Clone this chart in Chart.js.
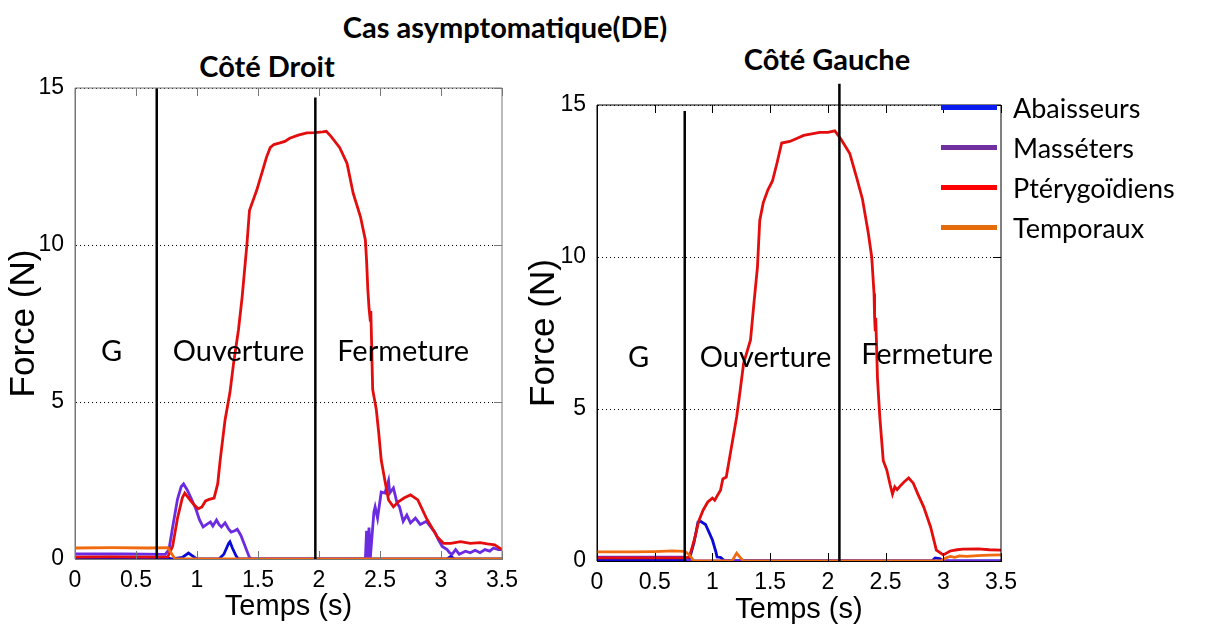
<!DOCTYPE html>
<html>
<head>
<meta charset="utf-8">
<script src="https://cdn.jsdelivr.net/npm/chart.js@4.4.0/dist/chart.umd.min.js"></script>
<style>
  body { margin: 0; width: 1216px; height: 624px; position: relative; background: #fff; overflow: hidden; }
  canvas { position: absolute; top: 0; }
  .ttl { position: absolute; font-family: Lato, "Open Sans", sans-serif; font-weight: bold; font-size: 29px; line-height: 30px; text-align: center; color: #000; }
  #legend { position: absolute; left: 941px; top: 87px; font-family: Lato, "Open Sans", sans-serif; font-size: 27px; }
  #legend div { height: 40px; display: flex; align-items: center; }
  #legend span.sw { display: inline-block; width: 56px; height: 5px; margin-right: 16px; }
</style>
</head>
<body>
<div class="ttl" style="left:255px; width:500px; top:12px;">Cas asymptomatique(DE)</div>
<div class="ttl" style="left:147px; width:240px; top:51px;">Côté Droit</div>
<div class="ttl" style="left:707px; width:240px; top:44px;">Côté Gauche</div>
<canvas id="droit" width="530" height="624" style="left:0;"></canvas>
<canvas id="gauche" width="696" height="624" style="left:520px;"></canvas>
<div id="legend"></div>
<script>
// time (s), force (N) pairs
const xTicks = [0, 0.5, 1, 1.5, 2, 2.5, 3, 3.5];
const yTicks = [0, 5, 10, 15];
const seriesNames = ['Abaisseurs', 'Masséters', 'Ptérygoïdiens', 'Temporaux'];

// Côté Droit
const droitAbaisseurs = [[0,0.04],[0.75,0.04],[0.8,0],[0.88,0.05],[0.93,0.19],[0.98,0.05],[1.0,0],[1.18,0],[1.22,0.15],[1.26,0.5],[1.27,0.55],[1.29,0.35],[1.32,0.1],[1.34,0],[3.05,0],[3.08,0.08],[3.11,0],[3.5,0]];
const droitMasseters = [[0,0.16],[0.4,0.16],[0.74,0.15],[0.77,0.3],[0.8,1.0],[0.84,1.9],[0.87,2.3],[0.89,2.39],[0.92,2.2],[0.95,1.95],[0.99,1.6],[1.02,1.25],[1.05,1.02],[1.08,1.1],[1.11,1.18],[1.13,1.05],[1.16,1.24],[1.18,1.1],[1.2,1.02],[1.23,1.15],[1.26,0.95],[1.28,0.86],[1.31,0.9],[1.33,0.95],[1.36,0.75],[1.38,0.55],[1.41,0.25],[1.43,0.05],[1.45,0],[2.38,0],[2.39,0.9],[2.4,0],[2.41,1.0],[2.42,0],[2.45,1.5],[2.46,1.66],[2.48,1.3],[2.51,2.13],[2.54,2.1],[2.57,2.5],[2.58,2.1],[2.61,2.26],[2.64,1.78],[2.66,1.66],[2.69,1.2],[2.72,1.4],[2.75,1.15],[2.79,1.3],[2.83,1.1],[2.88,1.2],[2.92,1.0],[2.95,0.85],[2.98,0.6],[3.01,0.4],[3.05,0.3],[3.07,0.2],[3.09,0.15],[3.12,0.3],[3.15,0.15],[3.2,0.25],[3.24,0.2],[3.28,0.28],[3.32,0.2],[3.36,0.3],[3.4,0.25],[3.43,0.35],[3.47,0.3],[3.5,0.3]];
const droitPterygoidiens = [[0,0.06],[0.3,0.07],[0.6,0.06],[0.76,0.07],[0.8,0.4],[0.84,1.3],[0.88,1.95],[0.9,2.1],[0.93,1.95],[0.97,1.75],[1.01,1.6],[1.04,1.66],[1.07,1.85],[1.1,1.9],[1.14,1.94],[1.17,2.4],[1.19,3.15],[1.23,4.43],[1.27,5.3],[1.3,6.24],[1.34,7.3],[1.37,8.34],[1.41,10.06],[1.43,11.1],[1.49,11.75],[1.54,12.4],[1.57,12.8],[1.6,13.1],[1.63,13.2],[1.68,13.25],[1.72,13.3],[1.76,13.4],[1.83,13.5],[1.9,13.57],[1.97,13.58],[2.03,13.6],[2.06,13.62],[2.1,13.45],[2.17,13.1],[2.23,12.6],[2.28,11.65],[2.34,10.9],[2.38,10.16],[2.39,9.5],[2.4,8.6],[2.41,8.0],[2.42,7.6],[2.425,7.9],[2.44,5.4],[2.47,4.75],[2.49,4.0],[2.51,3.15],[2.54,2.5],[2.57,1.88],[2.61,1.66],[2.65,1.82],[2.7,1.95],[2.75,2.04],[2.81,1.88],[2.88,1.3],[2.97,0.7],[3.02,0.5],[3.08,0.5],[3.16,0.55],[3.24,0.5],[3.32,0.52],[3.38,0.48],[3.44,0.45],[3.5,0.3]];
const droitTemporaux = [[0,0.35],[0.3,0.36],[0.6,0.35],[0.76,0.36],[0.82,0],[3.5,0]];
const droitPhaseTimes = [0.67, 1.97];
const droitPhaseTops = [15, 14.7];

// Côté Gauche
const gaucheAbaisseurs = [[0,0.03],[0.76,0.03],[0.8,0.05],[0.84,0.6],[0.875,1.28],[0.9,1.3],[0.94,1.2],[0.97,0.95],[1.0,0.69],[1.03,0.3],[1.04,0.13],[1.07,0.12],[1.1,0.02],[2.9,0],[2.93,0.1],[2.97,0.08],[3.0,0],[3.5,0]];
const gaucheMasseters = [[0,0.13],[0.76,0.13],[0.8,0],[3.5,0]];
const gauchePterygoidiens = [[0,0.1],[0.4,0.1],[0.76,0.1],[0.8,0.13],[0.85,0.79],[0.88,1.3],[0.92,1.68],[0.96,1.94],[1.0,2.07],[1.02,2.0],[1.05,2.2],[1.07,2.33],[1.09,2.7],[1.12,2.76],[1.15,3.42],[1.21,4.74],[1.24,5.6],[1.27,6.5],[1.33,7.27],[1.36,8.5],[1.39,9.67],[1.41,11.2],[1.44,11.78],[1.48,12.2],[1.52,12.5],[1.56,13.1],[1.6,13.75],[1.67,13.8],[1.73,13.9],[1.79,14.0],[1.86,14.05],[1.93,14.1],[2.0,14.1],[2.06,14.15],[2.11,13.9],[2.19,13.4],[2.25,12.6],[2.3,11.9],[2.35,10.8],[2.38,10.0],[2.4,8.8],[2.405,8.0],[2.41,7.6],[2.415,8.0],[2.43,6.0],[2.45,4.74],[2.48,3.3],[2.51,3.0],[2.54,2.5],[2.56,2.2],[2.58,2.44],[2.6,2.35],[2.62,2.44],[2.66,2.6],[2.7,2.73],[2.74,2.56],[2.78,2.2],[2.83,1.78],[2.89,1.12],[2.94,0.36],[3.0,0.2],[3.06,0.33],[3.12,0.37],[3.17,0.39],[3.3,0.4],[3.4,0.37],[3.5,0.36]];
const gaucheTemporaux = [[0,0.3],[0.3,0.3],[0.5,0.31],[0.65,0.33],[0.76,0.32],[0.8,0.2],[0.84,0],[1.17,0],[1.21,0.26],[1.24,0.12],[1.27,0],[2.98,0],[3.02,0.1],[3.06,0.15],[3.1,0.12],[3.14,0.17],[3.2,0.15],[3.3,0.18],[3.4,0.19],[3.5,0.2]];
const gauchePhaseTimes = [0.76, 2.10];
const gauchePhaseTops = [14.8, 15.7];

const lineColors = ['#0a0ad8', '#6b2be0', '#e30d0d', '#f06a10'];
const legendColors = ['#0b1cf0', '#7030a0', '#ff0000', '#e46c0a'];

// inward ticks, frame and phase captions
const framePlugin = {
  id: 'framePlugin',
  afterDatasetsDraw(chart, args, opts) {
    const {ctx, chartArea: a, scales: {x, y}} = chart;
    ctx.save();
    ctx.strokeStyle = opts.color;
    ctx.lineWidth = 1;
    ctx.beginPath();
    ctx.moveTo(a.left, a.top); ctx.lineTo(a.right, a.top); ctx.lineTo(a.right, a.bottom);
    ctx.moveTo(a.left, a.top); ctx.lineTo(a.left, a.bottom);
    xTicks.forEach(v => {
      const px = Math.round(x.getPixelForValue(v)) + 0.5;
      ctx.moveTo(px, a.top); ctx.lineTo(px, a.top + 8);
      ctx.moveTo(px, a.bottom); ctx.lineTo(px, a.bottom - 8);
    });
    yTicks.forEach(v => {
      const py = Math.round(y.getPixelForValue(v)) + 0.5;
      ctx.moveTo(a.right, py); ctx.lineTo(a.right - 8, py);
    });
    ctx.stroke();
    ctx.fillStyle = '#000';
    ctx.font = '29px Lato, "Open Sans", sans-serif';
    ctx.textAlign = 'center';
    ctx.textBaseline = 'middle';
    opts.captions.forEach(c => ctx.fillText(c.text, x.getPixelForValue(c.t), y.getPixelForValue(c.f)));
    ctx.restore();
  }
};

function toPoints(pairs) { return pairs.map(p => ({x: p[0], y: p[1]})); }

function makeChart(id, series, phaseTimes, phaseTops, captions, frameColor, box) {
  const datasets = phaseTimes.map((t, i) => ({
    data: [{x: t, y: 0}, {x: t, y: phaseTops[i]}],
    borderColor: '#000', borderWidth: 2.5, pointRadius: 0, clip: false, order: 0
  }));
  series.forEach((s, i) => datasets.push({
    label: seriesNames[i], data: toPoints(s), borderColor: lineColors[i],
    borderWidth: 2.8, pointRadius: 0, tension: 0, order: 4 - i
  }));
  return new Chart(document.getElementById(id), {
    type: 'line',
    data: {datasets},
    options: {
      responsive: false, animation: false,
      layout: {padding: {left: 0, top: box.top, right: box.right, bottom: 0}},
      plugins: {legend: {display: false}, tooltip: {enabled: false},
        framePlugin: {color: frameColor, captions}},
      scales: {
        x: {
          type: 'linear', min: 0, max: 3.5,
          afterBuildTicks: s => { s.ticks = xTicks.map(v => ({value: v})); },
          afterFit: s => { s.height = box.xh; },
          grid: {display: false, drawTicks: false},
          border: {color: frameColor, width: 1},
          ticks: {padding: 8, maxRotation: 0, color: '#000', callback: v => String(v),
            font: {family: '"Liberation Sans", Arial', size: 23}},
          title: {display: true, text: 'Temps (s)', color: '#000', padding: {top: 0, bottom: box.tb},
            font: {family: '"Liberation Sans", Arial', size: 29}}
        },
        y: {
          min: 0, max: 15,
          afterBuildTicks: s => { s.ticks = yTicks.map(v => ({value: v})); },
          afterFit: s => { s.width = box.yw; },
          grid: {drawTicks: false, color: c => c.tick.value === 0 ? 'rgba(0,0,0,0)' : '#000', lineWidth: 1},
          border: {color: frameColor, width: 1, dash: [1, 3]},
          ticks: {padding: 11, color: '#000', callback: v => String(v),
            font: {family: '"Liberation Sans", Arial', size: 23}},
          title: {display: true, text: 'Force (N)', color: '#000', padding: {top: 3, bottom: 0},
            font: {family: '"Liberation Sans", Arial', size: 35}}
        }
      }
    },
    plugins: [framePlugin]
  });
}

makeChart('droit',
  [droitAbaisseurs, droitMasseters, droitPterygoidiens, droitTemporaux],
  droitPhaseTimes, droitPhaseTops,
  [{text: 'G', t: 0.3, f: 6.6}, {text: 'Ouverture', t: 1.34, f: 6.6}, {text: 'Fermeture', t: 2.69, f: 6.6}],
  '#777', {top: 88, right: 28, xh: 65, yw: 75, tb: 0});

makeChart('gauche',
  [gaucheAbaisseurs, gaucheMasseters, gauchePterygoidiens, gaucheTemporaux],
  gauchePhaseTimes, gauchePhaseTops,
  [{text: 'G', t: 0.36, f: 6.7}, {text: 'Ouverture', t: 1.46, f: 6.7}, {text: 'Fermeture', t: 2.86, f: 6.8}],
  '#000', {top: 105, right: 215, xh: 63, yw: 77, tb: -3});

const legend = document.getElementById('legend');
seriesNames.forEach((n, i) => {
  const row = document.createElement('div');
  row.innerHTML = '<span class="sw" style="background:' + legendColors[i] + '"></span>' + n;
  legend.appendChild(row);
});
</script>
</body>
</html>
